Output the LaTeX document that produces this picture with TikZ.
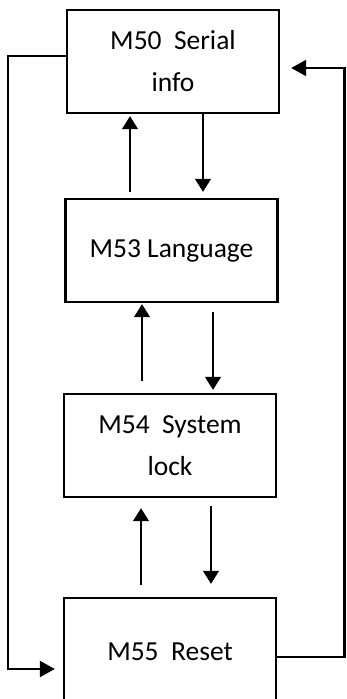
\documentclass[tikz,border=0pt]{standalone}
\usepackage{fontspec}
\setmainfont{Carlito}
\usetikzlibrary{calc,arrows.meta,positioning}

\begin{document}
\begin{tikzpicture}[x=1pt,y=-1pt,
  menu/.style={draw,line width=2.4pt,minimum width=212pt,minimum height=103pt,
    align=center,font=\fontsize{27.5}{42}\selectfont},
  link/.style={line width=1.1pt,-{Triangle[length=13pt,width=16pt]}},
  loopline/.style={line width=2.2pt,-{Triangle[length=15pt,width=16pt]}}]
\useasboundingbox (0,0) rectangle (346,699);
\clip (0,0) rectangle (346,699);
\node[menu] (m50) at (173,61.5) {M50\ \ Serial\\info};
\node[menu] (m53) at (171.5,250.5) {M53 Language};
\node[menu] (m54) at (170,445.5) {M54\ \ System\\lock};
\node[menu,minimum height=108pt] (m55) at (170,652) {M55\ \ Reset};
% up and down between the menus
\draw[link] ([xshift=-41.5pt,yshift=6pt]m53.north) -- ([xshift=-43pt,yshift=-2pt]m50.south);
\draw[link] ([xshift=30pt]m50.south) -- ([xshift=31.5pt,yshift=6pt]m53.north);
\draw[link] ([xshift=-28pt,yshift=12pt]m54.north) -- ([xshift=-29.5pt,yshift=-1pt]m53.south);
\draw[link] ([xshift=41.5pt,yshift=-9pt]m53.south) -- ([xshift=43pt,yshift=3pt]m54.north);
\draw[link] ([xshift=-29pt,yshift=12pt]m55.north) -- ([xshift=-29pt,yshift=-10pt]m54.south);
\draw[link] ([xshift=41pt,yshift=-8pt]m54.south) -- ([xshift=41pt,yshift=13pt]m55.north);
% outer loops
\coordinate (lt) at (8,56);
\coordinate (lb) at (8,669);
\coordinate (rt) at (344.5,68);
\coordinate (rb) at (344.5,657);
\draw[loopline] (m50.west |- lt) -- (lt) -- (lb) -- ([xshift=-8pt]m55.west |- lb);
\draw[loopline] (m55.east |- rb) -- (rb) -- (rt) -- ([xshift=11pt]m50.east |- rt);
\end{tikzpicture}
\end{document}
